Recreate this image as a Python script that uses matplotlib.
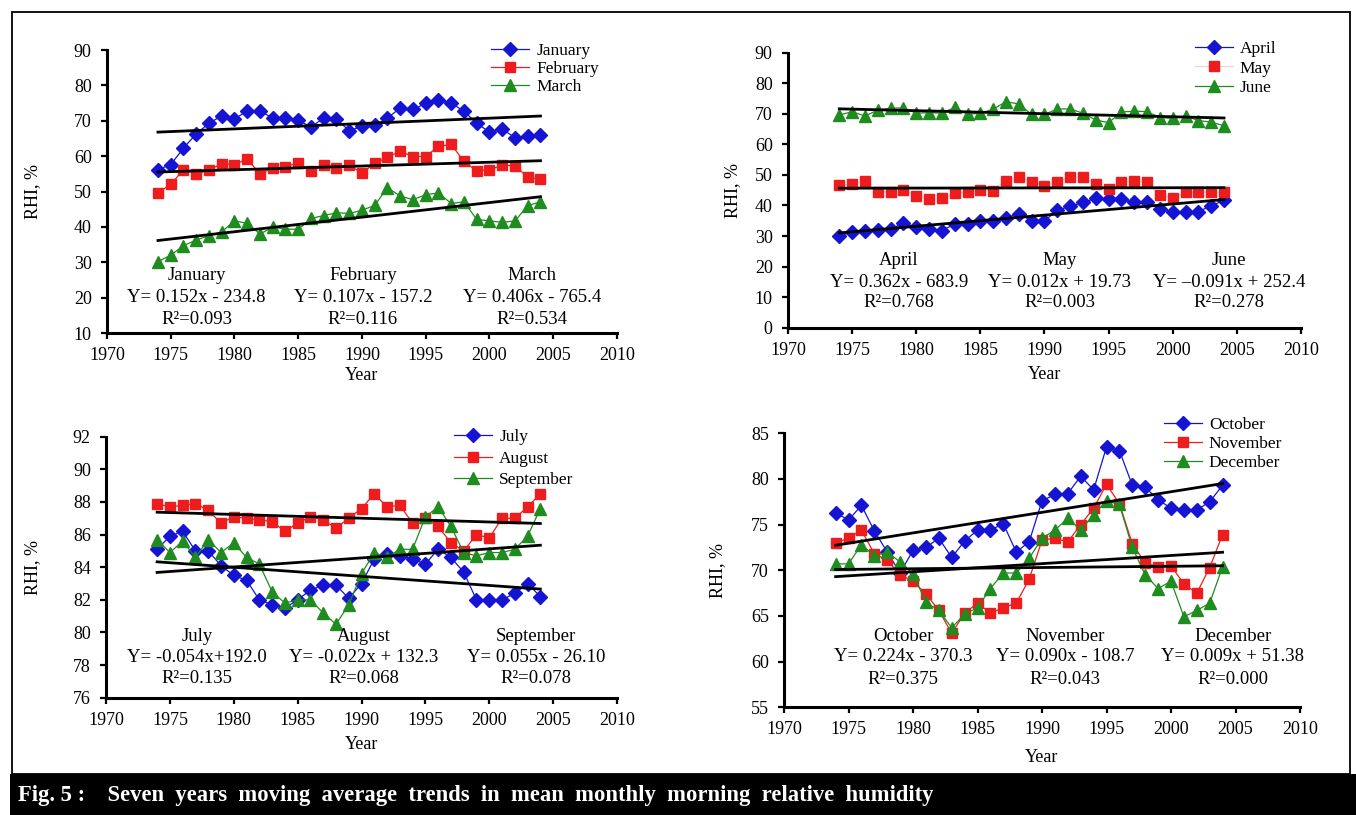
import numpy as np
import matplotlib.pyplot as plt
from matplotlib.patches import Rectangle

plt.rcParams['font.family'] = ['Liberation Serif', 'DejaVu Serif']

years = np.arange(1974, 2005)

# seven-year moving averages of morning RHI (%)
jan = [56.2, 57.6, 62.3, 66.3, 69.3, 71.4, 70.5, 72.8, 72.7, 70.8, 70.8, 70.2, 68.2, 70.8, 70.4, 67.2,
       68.4, 68.7, 70.8, 73.6, 73.2, 74.9, 75.8, 75.0, 72.7, 69.3, 66.8, 67.7, 65.2, 65.7, 65.9]
feb = [49.7, 52.0, 56.2, 55.0, 56.0, 57.9, 57.6, 59.2, 55.0, 56.6, 56.9, 58.2, 55.8, 57.4, 56.6, 57.4,
       55.2, 58.0, 59.7, 61.4, 59.9, 59.9, 62.8, 63.3, 58.5, 55.8, 56.2, 57.4, 57.3, 54.1, 53.4]
mar = [30.2, 32.0, 34.7, 36.3, 37.5, 38.6, 41.7, 41.0, 38.0, 39.9, 39.4, 39.3, 42.4, 43.2, 44.0, 43.8,
       44.7, 46.1, 51.1, 48.7, 47.7, 49.1, 49.6, 46.6, 47.1, 42.1, 41.7, 41.3, 41.7, 46.0, 47.1]
apr = [30.0, 31.4, 31.6, 31.9, 32.2, 34.3, 32.9, 32.3, 31.8, 33.9, 33.9, 34.8, 35.0, 36.0, 37.3, 35.0,
       35.0, 38.4, 39.8, 41.0, 42.3, 42.0, 42.0, 41.1, 41.0, 38.9, 37.8, 37.8, 38.0, 39.9, 41.7]
may = [46.6, 47.0, 48.0, 44.4, 44.4, 45.1, 43.2, 42.0, 42.3, 44.0, 44.4, 45.1, 44.9, 48.1, 49.4, 47.7,
       46.5, 47.7, 49.4, 49.2, 47.0, 45.3, 47.7, 48.0, 47.7, 43.3, 42.6, 44.3, 44.3, 44.3, 44.3]
jun = [69.6, 70.7, 69.3, 71.2, 71.8, 72.0, 70.2, 70.4, 70.2, 72.1, 69.9, 70.2, 71.5, 74.0, 73.2, 69.8,
       69.8, 71.6, 71.6, 70.2, 68.0, 67.1, 70.6, 70.9, 70.7, 68.8, 68.5, 69.3, 67.8, 67.3, 66.1]
jul = [85.1, 85.9, 86.2, 85.0, 85.0, 84.1, 83.5, 83.2, 82.0, 81.7, 81.5, 82.0, 82.6, 82.9, 82.9, 82.1,
       83.0, 84.5, 84.8, 84.7, 84.5, 84.2, 85.1, 84.6, 83.7, 82.0, 82.0, 82.0, 82.4, 83.0, 82.2]
aug = [87.9, 87.7, 87.8, 87.9, 87.5, 86.7, 87.1, 87.0, 86.9, 86.8, 86.2, 86.7, 87.1, 86.9, 86.4, 87.0,
       87.6, 88.5, 87.7, 87.8, 86.7, 87.0, 86.5, 85.5, 85.0, 86.0, 85.8, 87.0, 87.0, 87.7, 88.5]
sep = [85.7, 84.9, 85.6, 84.6, 85.7, 84.9, 85.5, 84.6, 84.2, 82.5, 81.8, 82.0, 82.0, 81.2, 80.5, 81.7,
       83.6, 84.9, 84.6, 85.1, 85.1, 87.1, 87.7, 86.5, 84.9, 84.7, 84.9, 84.9, 85.1, 85.9, 87.6]
octo = [76.3, 75.5, 77.1, 74.3, 72.0, 69.7, 72.2, 72.5, 73.5, 71.4, 73.2, 74.4, 74.4, 75.1, 72.0, 73.1,
        77.6, 78.3, 78.4, 80.3, 78.8, 83.5, 83.1, 79.3, 79.1, 77.7, 76.8, 76.6, 76.6, 77.5, 79.3]
nov = [73.0, 73.5, 74.4, 71.8, 71.1, 69.5, 68.8, 67.4, 65.6, 63.1, 65.3, 66.4, 65.3, 65.9, 66.4, 69.0,
       73.3, 73.5, 73.1, 75.0, 76.8, 79.4, 77.3, 72.9, 70.8, 70.4, 70.5, 68.5, 67.5, 70.3, 73.9]
dec = [70.7, 70.7, 72.8, 71.6, 72.0, 70.9, 69.6, 66.5, 65.6, 63.7, 65.2, 65.9, 68.0, 69.7, 69.7, 71.3,
       73.5, 74.4, 75.7, 74.4, 76.1, 77.6, 77.2, 72.5, 69.5, 68.0, 68.8, 64.9, 65.6, 66.4, 70.4]

months = [['January', 'February', 'March'], ['April', 'May', 'June'],
          ['July', 'August', 'September'], ['October', 'November', 'December']]
series = [[jan, feb, mar], [apr, may, jun], [jul, aug, sep], [octo, nov, dec]]
equations = [['Y= 0.152x - 234.8', 'Y= 0.107x - 157.2', 'Y= 0.406x - 765.4'],
             ['Y= 0.362x - 683.9', 'Y= 0.012x + 19.73', 'Y= \u20130.091x + 252.4'],
             ['Y= -0.054x+192.0', 'Y= -0.022x + 132.3', 'Y= 0.055x - 26.10'],
             ['Y= 0.224x - 370.3', 'Y= 0.090x - 108.7', 'Y= 0.009x + 51.38']]
r2 = [['0.093', '0.116', '0.534'], ['0.768', '0.003', '0.278'],
      ['0.135', '0.068', '0.078'], ['0.375', '0.043', '0.000']]
yticks = [np.arange(10, 91, 10), np.arange(0, 91, 10), np.arange(76, 93, 2), np.arange(55, 86, 5)]

# layout per panel
rects = [[0.0789, 0.5914, 0.3761, 0.3472], [0.5811, 0.5979, 0.3783, 0.3374],
         [0.0782, 0.1439, 0.3768, 0.3202], [0.5782, 0.1322, 0.3805, 0.3362]]
text_x = [[0.176, 0.502, 0.833], [0.216, 0.530, 0.860], [0.178, 0.505, 0.841], [0.231, 0.545, 0.870]]
text_y = [[0.205, 0.127, 0.046], [0.246, 0.166, 0.090], [0.236, 0.156, 0.072], [0.260, 0.184, 0.100]]
leg_pos = [(0.753, 1.026), (0.793, 1.043), (0.681, 1.029), (0.736, 1.06)]
leg_space = [0.11, 0.19, 0.31, 0.16]
ylab_x = [-0.129, -0.092, -0.127, -0.112]
xlab_y = [-0.12, -0.139, -0.147, -0.152]

colors = ['#1414d2', '#ee1c1c', '#1e8c1e']
markers = ['D', 's', '^']
msizes = [7, 7, 8.5]

fig = plt.figure(figsize=(13.56, 8.15), dpi=100)

for k in range(4):
    ax = fig.add_axes(rects[k])
    for j in range(3):
        c = colors[j]
        lc = c
        if k == 1 and j == 1:
            lc = '#f6d0d0'
        ax.plot(years, series[k][j], color=lc, lw=0.9, marker=markers[j], ms=msizes[j],
                mfc=c, mec=c, label=months[k][j], zorder=3)
    for j in range(3):
        fit = np.polyfit(years, series[k][j], 1)
        ax.plot(years, np.polyval(fit, years), color='black', lw=2, zorder=4)
    for j in range(3):
        ty = text_y[k]
        ax.text(text_x[k][j], ty[0], months[k][j], transform=ax.transAxes, ha='center', va='center', fontsize=13.5)
        ax.text(text_x[k][j], ty[1], equations[k][j], transform=ax.transAxes, ha='center', va='center', fontsize=13.5)
        ax.text(text_x[k][j], ty[2], 'R\u00b2=' + r2[k][j], transform=ax.transAxes, ha='center', va='center', fontsize=13.5)
    ax.legend(loc='upper left', bbox_to_anchor=leg_pos[k], frameon=False, fontsize=12.5,
              handlelength=2.2, handletextpad=0.4, borderpad=0, borderaxespad=0,
              labelspacing=leg_space[k])
    ax.set_xlim(1970, 2010)
    ax.set_xticks(np.arange(1970, 2011, 5))
    ax.set_ylim(yticks[k][0], yticks[k][-1])
    ax.set_yticks(yticks[k])
    ax.spines[['top', 'right']].set_visible(False)
    ax.spines[['left', 'bottom']].set_linewidth(2.2)
    ax.tick_params(direction='out', length=4, width=1.6, labelsize=13)
    ax.tick_params(axis='x', pad=6)
    ax.tick_params(axis='y', pad=7)
    ax.set_ylabel('RHI, %', fontsize=13)
    ax.yaxis.set_label_coords(ylab_x[k], 0.5)
    ax.set_xlabel('Year', fontsize=13)
    ax.xaxis.set_label_coords(0.5, xlab_y[k])
    ax.patch.set_alpha(0)

# frame and caption bar
fig.patches.append(Rectangle((12 / 1356, 41 / 815), 1338 / 1356, 762 / 815, transform=fig.transFigure,
                             fill=False, ec='black', lw=1.3))
fig.patches.append(Rectangle((10 / 1356, 0), 1, 41 / 815, transform=fig.transFigure,
                             fc='black', ec='none'))
fig.text(18 / 1356, 20 / 815,
         'Fig. 5 :    Seven  years  moving  average  trends  in  mean  monthly  morning  relative  humidity',
         color='white', fontweight='bold', fontsize=16.3, va='center', ha='left')

fig.savefig('out.png', dpi=100)
